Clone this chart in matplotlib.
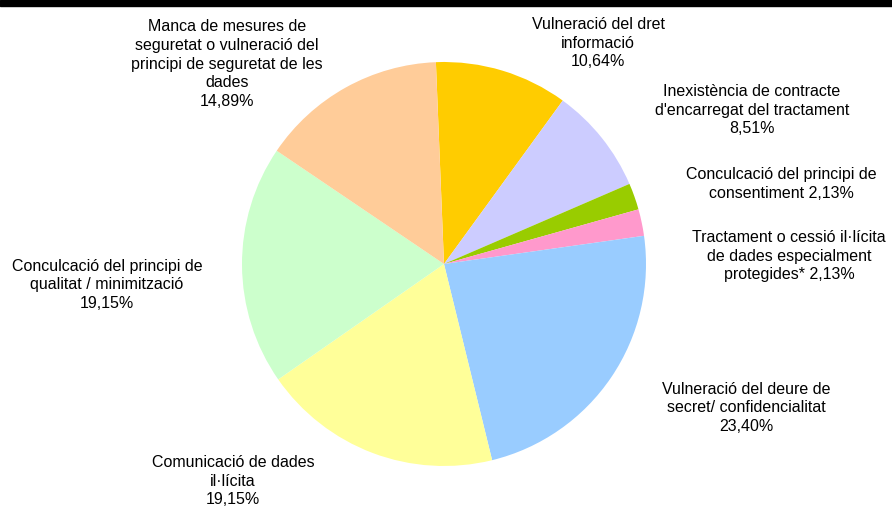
import matplotlib.pyplot as plt
from matplotlib.patches import Rectangle

labels = [
    "Vulneració del dret\ninformació\n10,64%",
    "Inexistència de contracte\nd'encarregat del tractament\n8,51%",
    "Conculcació del principi de\nconsentiment 2,13%",
    "Tractament o cessió il·lícita\nde dades especialment\nprotegides* 2,13%",
    "Vulneració del deure de\nsecret/ confidencialitat\n23,40%",
    "Comunicació de dades\nil·lícita\n19,15%",
    "Conculcació del principi de\nqualitat / minimització\n19,15%",
    "Manca de mesures de\nseguretat o vulneració del\nprincipi de seguretat de les\ndades\n14,89%",
]
values = [10.64, 8.51, 2.13, 2.13, 23.40, 19.15, 19.15, 14.89]
colors = ["#FFCC00", "#CCCCFF", "#99CC00", "#FF99CC",
          "#99CCFF", "#FFFF99", "#CCFFCC", "#FFCC99"]

# label centres in pixel coords (x, y from top)
label_pos = [(598, 43), (752, 110), (781, 184), (789, 256),
             (746, 408), (233, 481), (107, 285), (227, 64)]

W, H = 892, 507
fig = plt.figure(figsize=(W / 100, H / 100), dpi=100)
ax = fig.add_axes([0, 0, 1, 1])

ax.pie(values, colors=colors, startangle=92.3, counterclock=False,
       center=(444, H - 264), radius=202,
       wedgeprops=dict(linewidth=0))

ax.set_xlim(0, W)
ax.set_ylim(0, H)
ax.set_aspect("equal")
ax.axis("off")

for lab, (x, y) in zip(labels, label_pos):
    ax.text(x, H - y, lab, ha="center", va="center", fontsize=11.5,
            family="Liberation Sans", linespacing=1.3)

# black bar along the top edge
fig.patches.append(Rectangle((0, 1 - 6 / H), 1, 6 / H, transform=fig.transFigure,
                             color="black", zorder=10))

fig.savefig("out.png", dpi=100)
